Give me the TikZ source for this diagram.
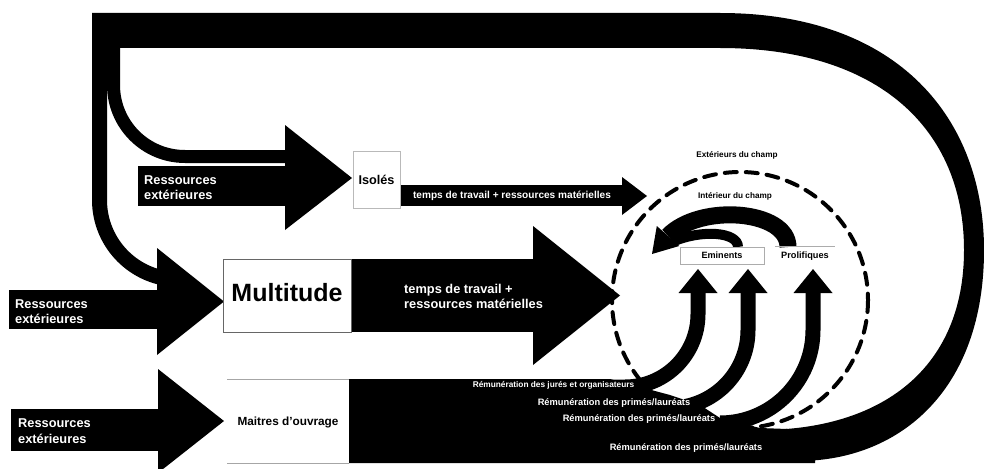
\documentclass[tikz,border=0pt]{standalone}
\usepackage{fontspec}
\setmainfont{Liberation Sans}
\newcommand\setsz[2]{\fontsize{#1}{#2}\selectfont}
\begin{document}
\begin{tikzpicture}[x=1pt, y=-1pt,
  res/.style={inner sep=0pt, text=white, align=left, anchor=west, font=\bfseries\setsz{12.8}{15.5}},
  pay/.style={inner sep=0pt, text=white, font=\bfseries\setsz{9.3}{11}},
  field/.style={inner sep=0pt, font=\bfseries\setsz{8.2}{10}},
  frame/.style={fill=white, inner sep=0pt, line width=0.8pt},
  upflow/.style={line width=15pt},
  backflow/.style={line width=17pt},
  fieldline/.style={line width=4pt, line cap=round, dash pattern=on 12pt off 9pt},
]
\useasboundingbox (0,0) rectangle (984,468);

% feedback loop: round the right-hand side and back along the top
\fill (92,13) -- (720,13) .. controls (900,13) and (984,120) .. (984,250)
  .. controls (984,390) and (900,460) .. (800,461) -- (700,461) -- (700,430) -- (760,430)
  .. controls (880,430) and (964,370) .. (964,250) .. controls (964,130) and (880,48) .. (720,48)
  -- (92,48) -- cycle;
\draw[line width=15pt] (99.5,30) -- (99.5,200) arc[start angle=180, end angle=90, radius=79.5];
\draw[line width=13pt] (113.5,30) -- (113.5,85) arc[start angle=180, end angle=90, radius=71.5] -- (285,156.5);

% external resources
\fill (138,166) rectangle (286,206);
\fill (285,125) -- (352,178) -- (285,230) -- cycle;
\fill (9,290) rectangle (158,329);
\fill (157,248) -- (224,301.5) -- (157,355) -- cycle;
\fill (11,409) rectangle (159,451);
\fill (158,369) -- (224,421) -- (158,473) -- cycle;

% outputs
\fill (400,185) rectangle (623,206);
\fill (622,177) -- (647,196) -- (622,215) -- cycle;
\fill (351,259) rectangle (534,332);
\fill (533,226) -- (620,295.5) -- (533,365) -- cycle;
\fill (349,379) -- (610,379) -- (670,395) -- (700,405) -- (720,418) -- (760,428)
  -- (815,430) -- (815,463) -- (349,463) -- cycle;

% rewards rising into the field
\coordinate (tipA) at (698,269);
\coordinate (tipB) at (748,269);
\coordinate (tipC) at (813,269);
\draw[upflow] (720,423) arc[start angle=90, end angle=0, radius=93] -- (813,292);
\fill (793.5,293) -- (tipC) -- (832.5,293) -- cycle;
\draw[upflow] (670,408) arc[start angle=90, end angle=0, radius=78] -- (748,292);
\fill (728.5,293) -- (tipB) -- (767.5,293) -- cycle;
\draw[upflow] (600,387) -- (625,387) arc[start angle=90, end angle=0, radius=73] -- (698,292);
\fill (678.5,293) -- (tipA) -- (717.5,293) -- cycle;

% recognition flowing back inside the field
\coordinate (tipD) at (652,254);
\draw[backflow] (788,247) .. controls (788,210) and (700,203) .. (668,236);
\draw[line width=10pt] (738,247) .. controls (738,232) and (702,229) .. (672,242);
\fill (656.8,226) -- (tipD) -- (679.2,246) -- cycle;

% boxes
\node[frame, draw=gray!55, minimum width=47pt, minimum height=57pt,
  font=\bfseries\setsz{12.7}{14}] (isoles) at (376.5,179.5) {Isolés};
\node[frame, draw=gray!80!black, minimum width=128pt, minimum height=73pt] (multitude) at (287,295.5) {};
\node[inner sep=0pt, font=\bfseries\setsz{25}{28}] (multLbl) at (287,293) {Multitude};
\node[inner sep=0pt, minimum width=124pt, minimum height=84pt, text depth=0pt,
  font=\bfseries\setsz{11.8}{14}] (maitres) at (288,421) {Maitres d'ouvrage};
\draw[gray!70, line width=0.8pt] (227,379) -- (349,379) (227,463) -- (349,463);
\node[frame, draw=gray!65, minimum width=84pt, minimum height=17pt, text depth=0pt,
  font=\bfseries\setsz{9.1}{11}] (eminents) at (722,255.5) {Eminents};
\node[inner sep=0pt, minimum width=60pt, minimum height=17pt, text depth=0pt,
  font=\bfseries\setsz{9.2}{11}] (prolifiques) at (805,255.5) {Prolifiques};
\draw[gray!65, line width=0.8pt] (prolifiques.north west) -- (prolifiques.north east);

% boundary of the field
\draw[fieldline] (740,300) circle[radius=128];
\node[field] (ext) at (737,155) {Extérieurs du champ};
\node[field] (int) at (735,196) {Intérieur du champ};

% flow labels
\node[res] (resIso) at (144,187.5) {Ressources\\extérieures};
\node[res] (resMult) at (15,311.5) {Ressources\\extérieures};
\node[res] (resMait) at (18,431) {Ressources\\extérieures};
\node[inner sep=0pt, text=white, font=\bfseries\setsz{10.1}{12}] (outIso) at (512,196)
  {temps de travail + ressources matérielles};
\node[res, font=\bfseries\setsz{12.8}{14.5}] (outMult) at (404,296.5)
  {temps de travail +\\ressources matérielles};
\node[pay, font=\bfseries\setsz{8.3}{10}] (payJury) at (553.5,385) {Rémunération des jurés et organisateurs};
\node[pay] (payA) at (614,403) {Rémunération des primés/lauréats};
\node[pay] (payB) at (639,419) {Rémunération des primés/lauréats};
\node[pay] (payC) at (686,448) {Rémunération des primés/lauréats};
\end{tikzpicture}
\end{document}
